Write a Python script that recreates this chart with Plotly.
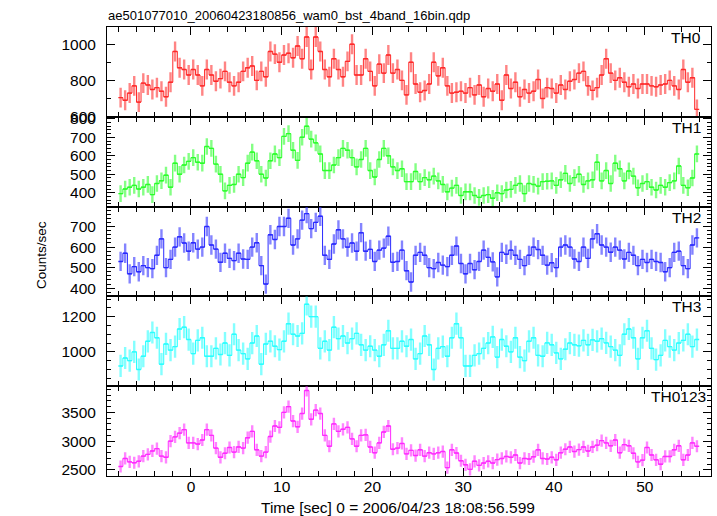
import numpy as np
import plotly.graph_objects as go
from plotly.subplots import make_subplots

title_text = "ae501077010_20060423180856_wam0_bst_4band_16bin.qdp"
x_title = "Time [sec] 0 = 2006/04/23 18:08:56.599"
y_title = "Counts/sec"
band_names = ["TH0", "TH1", "TH2", "TH3", "TH0123"]

t_start = -7.75
bin_width = 0.5

th0 = [705, 690, 730, 770, 680, 785, 775, 750, 760, 740,
       710, 790, 960, 870, 860, 830, 860, 830, 770, 860,
       830, 795, 810, 850, 790, 770, 790, 850, 870, 880,
       800, 850, 820, 960, 945, 900, 940, 950, 925, 990,
       920, 1040, 860, 1040, 960, 860, 820, 920, 860, 820,
       905, 1000, 830, 830, 920, 850, 770, 890, 840, 940,
       840, 860, 800, 720,
       900, 780, 735, 744, 780, 900, 825, 870, 770, 730,
       735, 740, 730, 760, 720, 775, 710, 755, 740, 780,
       690, 830, 755, 790, 710, 750, 730, 740, 805, 700,
       760, 755, 730, 775, 750, 795, 805, 840, 850, 770,
       745, 760, 830, 920, 840, 800, 815, 790, 765, 780,
       755, 780, 780, 770, 765, 775, 780, 800, 770, 750,
       860, 790, 815, 640]

th1 = [395, 420, 430, 440, 420, 430, 445, 390, 450, 465,
       495, 430, 560, 500, 550, 570, 590, 565, 560, 650,
       640, 555, 500, 410, 440, 445, 500, 482, 560, 620,
       573, 500, 480, 573, 610, 590, 705, 720, 630, 575,
       700, 760, 690, 670, 610, 520, 520, 550, 590, 640,
       630, 590, 540,
       580, 640, 520, 485, 580, 640, 600, 540, 520, 530,
       460, 460, 515, 460, 482, 470, 490, 464, 445, 405,
       425, 440, 385, 405, 405, 385, 375, 385, 390, 370,
       400, 395, 415, 418, 440, 450, 395, 450, 445, 436,
       460, 462, 464, 440, 470, 505, 450, 482, 500, 445,
       464, 470, 565, 464, 520, 450, 560, 530, 464, 518,
       490, 427, 450, 460, 430, 415, 440, 430, 455, 464,
       545, 440, 427, 480, 610]

th2 = [530, 570, 470, 505, 480, 510, 500, 495, 560, 640,
       500, 540, 600, 650, 620, 580, 621, 590, 600, 700,
       610, 590, 526, 570, 545, 534, 570, 542, 540, 600,
       621, 510, 420, 660, 637, 700, 700, 740, 610, 640,
       731, 763, 690, 720, 750, 560, 540, 615, 684, 640,
       600, 620, 580,
       670, 580, 589, 530, 585, 595, 653, 526, 530, 585,
       485, 430, 560, 574, 560, 500, 495, 525, 512, 505,
       560, 605, 520, 470, 520, 490, 530, 585, 550, 528,
       455, 574, 565, 585, 560, 540, 510, 560, 600, 588,
       560, 512, 524, 500, 600, 610, 600, 542, 530, 600,
       545, 640, 665, 610, 600, 575, 600, 585, 542, 574,
       560, 510, 540, 525, 540, 530, 525, 480, 500, 574,
       580, 510, 495, 610, 645]

th3 = [920, 965, 950, 1000, 900, 975, 1060, 1110, 1080, 930,
       1045, 1010, 1030, 1130, 1140, 1070, 990, 1065, 1080, 975,
       975, 1020, 985, 1050, 980, 1100, 1010, 990, 960, 1050,
       1090, 930, 1045, 1060, 1032, 1013, 1060, 1160, 1100, 1090,
       1105, 1270, 1200, 1200, 1020, 1060, 1010, 1140, 1075, 1090,
       1050, 1075, 1105,
       1040, 1010, 1032, 1010, 975, 1040, 1120, 1020, 1020, 1060,
       1032, 1070, 960, 990, 1090, 1040, 900, 1020, 1030, 975,
       1080, 1160, 1080, 920, 920, 980, 990, 1020, 1050, 1085,
       970, 1070, 1032, 1000, 1080, 970, 950, 1060, 1080, 980,
       975, 1051, 1040, 994, 960, 1015, 1050, 1040, 1035, 1065,
       1040, 1068, 1060, 1075, 1051, 1030, 1010, 980, 1100, 1130,
       1080, 960, 1080, 1120, 1020, 956, 980, 1065, 1030, 1010,
       1050, 1065, 1100, 1030, 1070]

th0123 = [2560, 2700, 2640, 2625, 2650, 2740, 2770, 2830, 2870, 2740,
          2720, 3000, 3075, 3140, 3200, 2970, 2970, 2950, 3020, 3200,
          3100, 2880, 2720, 2790, 2890, 2810, 2900, 2880, 3060, 3170,
          2850, 2740, 2810, 3080, 3264, 3240, 3500, 3600, 3350, 3250,
          3480, 3880, 3380, 3540, 3480, 3100, 2912, 3300, 3170, 3206,
          3240, 3040, 2912,
          3100, 3110, 2900, 2800, 2970, 3160, 3264, 2860, 2880, 2960,
          2780, 2840, 2750, 2850, 2740, 2800, 2780, 2800, 2820, 2540,
          2850, 2794, 2660, 2590, 2510, 2650, 2580, 2620, 2650, 2620,
          2680, 2700, 2735, 2720, 2760, 2620, 2700, 2690, 2730, 2850,
          2700, 2690, 2720, 2676, 2800, 2860, 2900, 2820, 2853, 2900,
          2830, 2900, 2930, 3010, 2970, 2920, 3020, 2800, 2940, 2920,
          2790, 2640, 2670, 2890, 2760, 2676, 2600, 2735, 2735, 2850,
          2920, 2676, 2760, 2970, 2912]

band_values = [th0, th1, th2, th3, th0123]
band_errors = [55, 45, 47, 63, 106]

line_colors = ["#ff2a2a", "#2aff2a", "#2a2aff", "#2affff", "#ff2aff"]
err_colors = ["rgba(255,50,50,0.6)", "rgba(50,255,50,0.6)", "rgba(50,50,255,0.6)",
              "rgba(50,255,255,0.6)", "rgba(255,50,255,0.6)"]
y_ranges = [[599, 1095], [325, 811], [360, 797], [805, 1315], [2395, 3955]]
y_dticks = [200, 100, 100, 200, 500]
y_minor = [100, 20, 20, 50, 100]
x_range = [-9.25, 57.3]
label_right_px = [703, 703, 703, 703, 708]

fig = make_subplots(rows=5, cols=1, shared_xaxes=True, vertical_spacing=0)

for i, vals in enumerate(band_values):
    t = t_start + bin_width * np.arange(len(vals))
    # error bars (vertical: statistical error, horizontal: bin half-width)
    fig.add_trace(go.Scatter(
        x=t, y=vals, mode="markers",
        marker=dict(size=0, color=line_colors[i], opacity=0),
        error_y=dict(type="constant", value=band_errors[i], width=0,
                     thickness=2.4, color=err_colors[i]),
        error_x=dict(type="constant", value=bin_width / 2, width=0,
                     thickness=1.4, color=line_colors[i]),
        hoverinfo="skip", showlegend=False,
    ), row=i + 1, col=1)
    # step line through the bins
    fig.add_trace(go.Scatter(
        x=t, y=vals, mode="lines", line=dict(shape="hvh", color=line_colors[i], width=1),
        hoverinfo="skip", showlegend=False,
    ), row=i + 1, col=1)

    fig.update_yaxes(row=i + 1, col=1, range=y_ranges[i], dtick=y_dticks[i], tick0=0,
                     ticks="inside", ticklen=8, tickwidth=1, tickcolor="black",
                     minor=dict(dtick=y_minor[i], ticklen=4, ticks="inside", tickcolor="black"),
                     showline=True, linecolor="black", linewidth=1, mirror="allticks",
                     showgrid=False, zeroline=False, ticklabelstandoff=7,
                     tickfont=dict(size=15.5, color="black"))
    fig.update_xaxes(row=i + 1, col=1, range=x_range, dtick=10, tick0=0,
                     ticks="inside", ticklen=8, tickwidth=1, tickcolor="black",
                     minor=dict(dtick=2, ticklen=5, ticks="inside", tickcolor="black"),
                     showline=True, linecolor="black", linewidth=1, mirror="allticks",
                     showgrid=False, zeroline=False, showticklabels=(i == 4),
                     ticklabelstandoff=-4,
                     tickfont=dict(size=15.5, color="black"))

L, R, T, B = 107, 6, 27, 40
W, H = 717, 516
pw, ph = W - L - R, H - T - B


def px_x(p):
    return (p - L) / pw


def px_y(p):
    return (H - B - p) / ph


annotations = []
for i, name in enumerate(band_names):
    top_px = T + ph * i / 5
    annotations.append(dict(text=name, xref="paper", yref="paper",
                            x=px_x(label_right_px[i]), y=px_y(top_px + 10.5),
                            xanchor="right", yanchor="middle", showarrow=False,
                            font=dict(size=15.5, color="black")))
annotations.append(dict(text=title_text, xref="paper", yref="paper",
                        x=px_x(106), y=px_y(16), xanchor="left", yanchor="middle",
                        showarrow=False, font=dict(size=13, color="black")))
annotations.append(dict(text=x_title, xref="paper", yref="paper",
                        x=px_x(398), y=px_y(507), xanchor="center", yanchor="middle",
                        showarrow=False, font=dict(size=15.5, color="black")))
annotations.append(dict(text=y_title, xref="paper", yref="paper", textangle=-90,
                        x=px_x(41), y=px_y(255), xanchor="center", yanchor="middle",
                        showarrow=False, font=dict(size=13.5, color="black")))

fig.update_layout(
    width=W, height=H,
    margin=dict(l=L, r=R, t=T, b=B),
    paper_bgcolor="white", plot_bgcolor="white",
    font=dict(family="Liberation Sans, Arial, sans-serif", size=14, color="black"),
    showlegend=False,
    annotations=annotations,
)

fig.write_html("out.html", config={"displayModeBar": False},
               post_script="document.body.style.margin='0';document.body.style.overflow='hidden';")
